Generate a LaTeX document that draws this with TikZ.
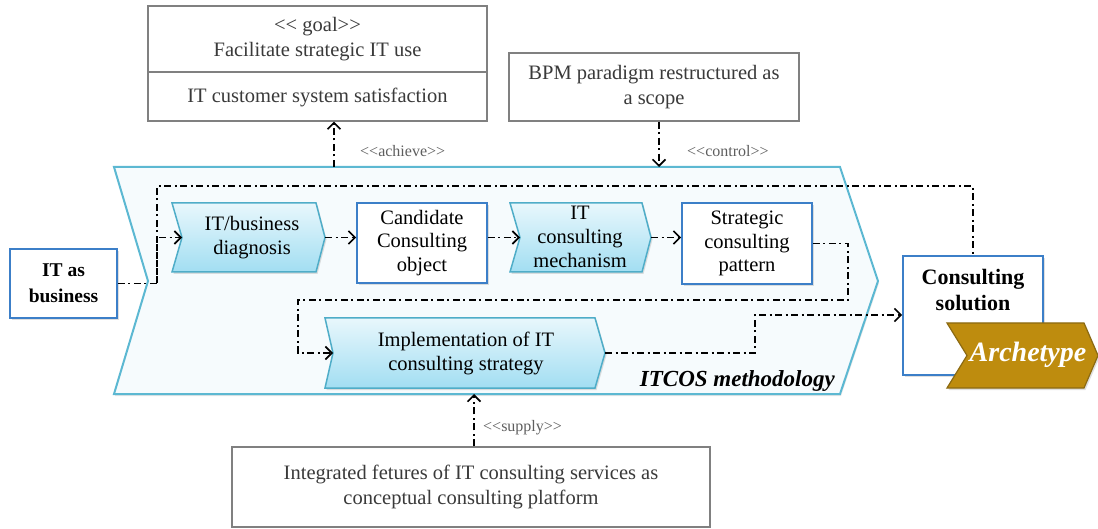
\documentclass[tikz,border=0pt]{standalone}
\usepackage{fontspec}
\setmainfont{Liberation Serif}
\usetikzlibrary{arrows.meta,shadows}
\definecolor{txt}{HTML}{3A3A3A}
\definecolor{lbl}{HTML}{5E5E5E}
\definecolor{graybd}{HTML}{808080}
\definecolor{bluebd}{HTML}{3C7FC8}
\definecolor{cyanbd}{HTML}{4FADC8}
\definecolor{bigbd}{HTML}{5CB8D2}
\definecolor{bigfill}{HTML}{F6FBFD}
\definecolor{chtop}{HTML}{E8F7FC}
\definecolor{chbot}{HTML}{A2DEF2}
\definecolor{gold}{HTML}{BE8C0E}
\definecolor{goldbd}{HTML}{8C6A12}
\newcommand\fsz[2]{\fontsize{#1}{#2}\selectfont}
\newcommand\lt{\hbox{<}}
\newcommand\gt{\hbox{>}}
\begin{document}
\begin{tikzpicture}[x=1pt,y=-1pt,
  graybox/.style={draw=graybd, line width=1.2pt, fill=white},
  graytext/.style={text=txt, align=center, font=\fsz{20.5}{24.5}, inner sep=0pt},
  bluebox/.style={draw=bluebd, line width=1.8pt, fill=white, align=center,
    drop shadow={shadow xshift=1.5pt, shadow yshift=-2pt, opacity=0.25}},
  chevshape/.style={draw=cyanbd, line width=1.5pt, top color=chtop, bottom color=chbot,
    drop shadow={shadow xshift=1.5pt, shadow yshift=-2pt, opacity=0.25}},
  bigch/.style={draw=bigbd, line width=2pt, fill=bigfill,
    drop shadow={shadow xshift=1pt, shadow yshift=-2pt, opacity=0.2}},
  btext/.style={align=center, font=\fsz{20.5}{24}, inner sep=0pt},
  conn/.style={line width=1.6pt, dash pattern=on 7pt off 3.5pt on 2pt off 3.5pt},
  arr/.style={conn, -{Straight Barb[length=6.5pt,width=13pt]}},
  lab/.style={text=lbl, font=\fsz{16}{18}, inner sep=0pt}
]
\useasboundingbox (0,0) rectangle (1098,529);

% ITCOS methodology chevron
\path[bigch] (114,167) -- (840,167) -- (878,281) -- (840,394) -- (114,394) -- (148,281) -- cycle;
\coordinate (achS) at (334,167);
\coordinate (ctlN) at (659,167);
\coordinate (supS) at (474,394);
\node[font=\fsz{23}{26}\bfseries\itshape, anchor=east, inner sep=0pt] (itcos) at (835,381) {ITCOS methodology};

% goal box
\node[graybox, minimum width=339pt, minimum height=115pt, inner sep=0pt] (goal) at (317.5,63.5) {};
\coordinate (gd) at (0,72);
\draw[graybd, line width=1.2pt] (goal.west |- gd) -- (goal.east |- gd);
\node[graytext] (goalt) at (317.5,39) {\lt\lt{} goal\gt\gt\\Facilitate strategic IT use};
\node[graytext] (goalb) at (317.5,97) {IT customer system satisfaction};

% BPM box
\node[graybox, minimum width=290pt, minimum height=68pt, graytext] (bpm) at (654,87) {BPM paradigm restructured as\\a scope};

% Integrated box
\node[graybox, minimum width=478pt, minimum height=80pt, graytext] (integ) at (471,487) {Integrated fetures of IT consulting services as\\conceptual consulting platform};

% IT as business
\node[bluebox, minimum width=107pt, minimum height=69pt, font=\fsz{19.5}{26}\bfseries, inner sep=0pt] (itb) at (63.5,283.5) {IT as\\business};

% IT/business diagnosis chevron
\path[chevshape] (172,203) -- (316,203) -- (325,237.5) -- (316,272) -- (172,272) -- (182,237.5) -- cycle;
\coordinate (diagL) at (182,237.5);
\coordinate (diagR) at (325,237.5);
\node[btext] (diag) at (252,238) {IT/business\\diagnosis};

% Candidate Consulting object
\node[bluebox, minimum width=130pt, minimum height=80pt, btext, font=\fsz{20.5}{23.5}] (cand) at (422,243) {Candidate\\Consulting\\object};

% IT consulting mechanism chevron
\path[chevshape] (510,203) -- (642,203) -- (651,237.5) -- (642,272) -- (510,272) -- (520,237.5) -- cycle;
\coordinate (mechL) at (520,237.5);
\coordinate (mechR) at (651,237.5);
\node[btext, font=\fsz{20.5}{24}] (mech) at (580,237) {IT\\consulting\\mechanism};

% Strategic consulting pattern
\node[bluebox, minimum width=130pt, minimum height=81pt, btext, font=\fsz{20.5}{23.5}] (strat) at (747,243.5) {Strategic\\consulting\\pattern};

% Implementation chevron
\path[chevshape] (325,318) -- (595,318) -- (605,353) -- (595,388) -- (325,388) -- (333,353) -- cycle;
\coordinate (implL) at (333,353);
\coordinate (implR) at (605,353);
\node[btext] (impl) at (466,353) {Implementation of IT\\consulting strategy};

% Consulting solution
\node[bluebox, minimum width=140pt, minimum height=119pt] (sol) at (973,315.5) {};
\node[font=\fsz{22}{26}\bfseries, align=center, inner sep=0pt] (solt) at (973,290) {Consulting\\solution};

% Archetype chevron
\path[draw=goldbd, line width=1.2pt, fill=gold,
  drop shadow={shadow xshift=1.5pt, shadow yshift=-2pt, opacity=0.25}]
  (947,323) -- (1084,323) -- (1098,355.5) -- (1084,388) -- (947,388) -- (967,355.5) -- cycle;
\node[text=white, font=\fsz{28}{30}\bfseries\itshape, inner sep=0pt] (arch) at (1028,355) {Archetype};

% connectors
\coordinate (jn) at (157,283.5);
\coordinate (tp) at (157,186);
\draw[conn] (itb.east) -- (jn) -- (tp) -| (sol.north);
\draw[arr] (jn) |- (diagL);
\draw[arr] (diagR) -- (diagR -| cand.west);
\draw[arr] (cand.east |- mechL) -- (mechL);
\draw[arr] (mechR) -- (mechR -| strat.west);
\coordinate (c1) at (848,300);
\coordinate (c2) at (298,300);
\draw[arr] (strat.east) -| (c1) -- (c2) |- (implL);
\coordinate (c3) at (755,315);
\draw[arr] (implR) -| (c3) -- (c3 -| sol.west);

\draw[arr] (achS) -- (achS |- goal.south);
\draw[arr] (ctlN |- bpm.south) -- (ctlN);
\draw[arr] (supS |- integ.north) -- (supS);

\node[lab, anchor=west] (lach) at (360,151) {\lt\lt achieve\gt\gt};
\node[lab, anchor=west] (lctl) at (687,151) {\lt\lt control\gt\gt};
\node[lab, anchor=west] (lsup) at (483,428) {\lt\lt supply\gt\gt};
\end{tikzpicture}
\end{document}
